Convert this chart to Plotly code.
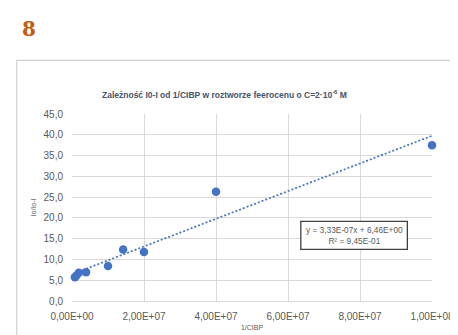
import plotly.graph_objects as go

# data
x_vals = [0.8e6, 1.2e6, 1.9e6, 3.9e6, 1.0e7, 1.42e7, 2.0e7, 4.0e7, 1.0e8]
y_vals = [5.7, 6.1, 6.8, 6.9, 8.4, 12.4, 11.8, 26.3, 37.5]
slope = 3.33e-7
intercept = 6.46
x_ticks = [0, 2e7, 4e7, 6e7, 8e7, 1e8]
x_ticktext = ["0,00E+00", "2,00E+07", "4,00E+07", "6,00E+07", "8,00E+07", "1,00E+08"]
y_ticks = [0, 5, 10, 15, 20, 25, 30, 35, 40, 45]
y_ticktext = ["0,0", "5,0", "10,0", "15,0", "20,0", "25,0", "30,0", "35,0", "40,0", "45,0"]

W, H = 458, 335
L, R, T, B = 64, 429, 106, 294

def px(x):
    return (x - L) / (R - L)

def py(y):
    return (B - y) / (B - T)

blue = "#4472C4"
fig = go.Figure()
tx = [min(x_vals), max(x_vals)]
fig.add_trace(go.Scatter(x=tx, y=[slope * v + intercept for v in tx], mode="lines",
                         line=dict(color=blue, width=1.7, dash="2px,2px"), hoverinfo="skip",
                         cliponaxis=False))
fig.add_trace(go.Scatter(x=x_vals, y=y_vals, mode="markers", cliponaxis=False,
                         marker=dict(color=blue, size=8.5, line=dict(width=0))))

fig.update_layout(
    width=W, height=H, showlegend=False,
    margin=dict(l=L, r=W - R, t=T, b=H - B),
    paper_bgcolor="white", plot_bgcolor="white",
    font=dict(family="Liberation Sans", color="#595959", size=10),
    xaxis=dict(range=[0, 1e8], tickvals=x_ticks, ticktext=x_ticktext,
               showgrid=True, gridcolor="#D9D9D9", gridwidth=1,
               showline=True, linecolor="#D9D9D9", zeroline=False,
               ticks="", ticklabelstandoff=6, tickfont=dict(size=10, color="#595959"),
               title=dict(text="1/CIBP", font=dict(size=7, color="#595959"), standoff=4)),
    yaxis=dict(range=[0, 45], tickvals=y_ticks, ticktext=y_ticktext,
               showgrid=True, gridcolor="#D9D9D9", gridwidth=1,
               showline=False, zeroline=False,
               ticks="", ticklabelstandoff=8, tickfont=dict(size=10, color="#595959"),
               title=dict(text="Io/Io-I", font=dict(size=7, color="#595959"), standoff=6)),
)

shapes = [
    # chart frame
    dict(type="rect", xref="paper", yref="paper", x0=px(8), x1=px(470), y0=py(345), y1=py(52),
         line=dict(color="#D0D0D0", width=1.2), fillcolor="rgba(0,0,0,0)", layer="below"),
    # equation box
    dict(type="rect", xref="paper", yref="paper", x0=px(296), x1=px(404), y0=py(242), y1=py(214),
         line=dict(color="#404040", width=1.3), fillcolor="white"),
]
fig.update_layout(shapes=shapes)

fig.add_annotation(text="<b>8</b>", xref="paper", yref="paper", x=px(11), y=py(21), xanchor="left", yanchor="middle",
                   showarrow=False, font=dict(family="DejaVu Serif", size=20, color="#C55A11"))
fig.add_annotation(text="<b>Zależność I0-I od 1/CIBP w roztworze feerocenu o C=2·10<sup>-6</sup> M</b>",
                   xref="paper", yref="paper", x=px(219), y=py(86), xanchor="center", yanchor="middle",
                   showarrow=False, font=dict(size=8.5, color="#44546A"))
fig.add_annotation(text="y = 3,33E-07x + 6,46E+00<br>R² = 9,45E-01", xref="paper", yref="paper",
                   x=px(350), y=py(228), xanchor="center", yanchor="middle", showarrow=False,
                   align="center", font=dict(size=8.3, color="#595959"))

fig.write_html("out.html")
